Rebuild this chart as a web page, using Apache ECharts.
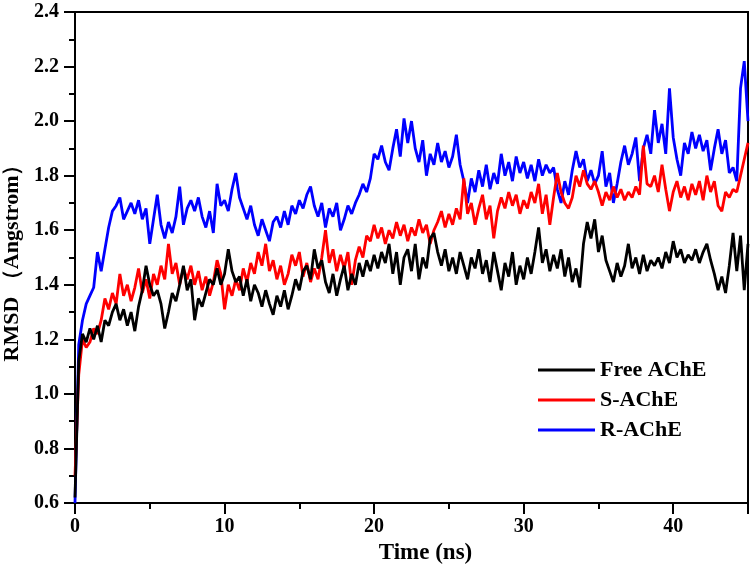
<!DOCTYPE html>
<html>
<head>
<meta charset="utf-8">
<script src="https://cdn.jsdelivr.net/npm/echarts@6/dist/echarts.min.js"></script>
<style>html,body{margin:0;padding:0;background:#fff}#c{width:754px;height:572px}</style>
</head>
<body>
<div id="c"></div>
<script>
// sampling step of the trajectories (ns)
const timeStep = 0.25;
const xTickLabels = ['0', '10', '20', '30', '40'];
const yTickLabels = ['0.6', '0.8', '1.0', '1.2', '1.4', '1.6', '1.8', '2.0', '2.2', '2.4'];
const seriesNames = ['Free AChE', 'S-AChE', 'R-AChE'];

const freeAChE = [
0.62,1.12,1.22,1.19,1.24,1.20,1.25,1.19,1.27,1.25,1.30,1.33,1.27,1.31,1.25,1.30,1.23,1.32,1.38,1.47,
1.40,1.36,1.38,1.33,1.24,1.30,1.37,1.34,1.40,1.47,1.38,1.42,1.27,1.35,1.32,1.37,1.42,1.40,1.46,1.40,
1.44,1.53,1.45,1.41,1.43,1.36,1.42,1.34,1.40,1.37,1.32,1.38,1.33,1.29,1.36,1.32,1.38,1.31,1.36,1.42,
1.38,1.45,1.47,1.42,1.53,1.46,1.49,1.41,1.37,1.44,1.36,1.42,1.47,1.38,1.44,1.40,1.48,1.43,1.49,1.45,
1.51,1.46,1.52,1.48,1.55,1.44,1.52,1.40,1.50,1.53,1.45,1.55,1.42,1.50,1.46,1.57,1.59,1.52,1.47,1.53,
1.45,1.50,1.44,1.52,1.47,1.42,1.50,1.46,1.53,1.44,1.49,1.41,1.52,1.45,1.38,1.48,1.43,1.52,1.40,1.47,
1.42,1.50,1.44,1.52,1.61,1.48,1.53,1.45,1.51,1.46,1.53,1.43,1.50,1.41,1.46,1.39,1.55,1.63,1.57,1.64,
1.52,1.58,1.49,1.45,1.41,1.48,1.43,1.47,1.55,1.46,1.50,1.44,1.51,1.45,1.49,1.47,1.50,1.46,1.52,1.48,
1.56,1.50,1.53,1.48,1.51,1.49,1.53,1.48,1.52,1.55,1.49,1.44,1.38,1.43,1.37,1.47,1.59,1.45,1.58,1.38,
1.55];

const sAChE = [
0.70,1.07,1.20,1.17,1.19,1.24,1.22,1.27,1.35,1.31,1.37,1.33,1.44,1.36,1.40,1.34,1.39,1.46,1.37,1.42,
1.35,1.44,1.40,1.47,1.42,1.55,1.44,1.48,1.40,1.46,1.42,1.47,1.40,1.45,1.38,1.43,1.36,1.41,1.49,1.44,
1.31,1.40,1.36,1.42,1.38,1.46,1.41,1.48,1.44,1.52,1.47,1.55,1.45,1.49,1.42,1.47,1.40,1.44,1.51,1.47,
1.52,1.43,1.48,1.41,1.46,1.42,1.50,1.60,1.48,1.53,1.45,1.51,1.46,1.52,1.40,1.49,1.54,1.50,1.58,1.56,
1.62,1.57,1.61,1.55,1.60,1.57,1.63,1.58,1.62,1.56,1.61,1.58,1.64,1.59,1.62,1.55,1.60,1.63,1.67,1.61,
1.66,1.62,1.68,1.64,1.79,1.66,1.70,1.62,1.68,1.73,1.64,1.69,1.57,1.67,1.72,1.68,1.74,1.69,1.73,1.66,
1.71,1.68,1.74,1.70,1.77,1.66,1.73,1.62,1.72,1.81,1.74,1.70,1.68,1.72,1.80,1.76,1.82,1.77,1.75,1.78,
1.74,1.69,1.74,1.71,1.76,1.72,1.75,1.71,1.74,1.72,1.76,1.73,1.91,1.77,1.76,1.80,1.74,1.84,1.75,1.67,
1.74,1.78,1.72,1.76,1.71,1.77,1.73,1.78,1.71,1.80,1.74,1.78,1.69,1.67,1.74,1.72,1.75,1.74,1.80,1.86,
1.92];

const rAChE = [
0.60,1.18,1.27,1.33,1.36,1.39,1.52,1.45,1.53,1.61,1.67,1.69,1.72,1.64,1.67,1.70,1.66,1.71,1.64,1.68,
1.55,1.64,1.73,1.62,1.57,1.63,1.59,1.65,1.76,1.62,1.68,1.71,1.67,1.72,1.65,1.61,1.67,1.59,1.77,1.69,
1.71,1.67,1.75,1.81,1.72,1.68,1.64,1.69,1.62,1.58,1.64,1.60,1.56,1.63,1.65,1.61,1.67,1.62,1.69,1.66,
1.71,1.68,1.73,1.76,1.69,1.65,1.70,1.61,1.68,1.65,1.70,1.60,1.64,1.69,1.66,1.70,1.73,1.77,1.74,1.79,
1.88,1.86,1.91,1.85,1.82,1.90,1.97,1.87,2.01,1.92,2.00,1.90,1.85,1.93,1.80,1.88,1.84,1.92,1.85,1.89,
1.83,1.87,1.95,1.84,1.78,1.70,1.79,1.74,1.82,1.76,1.84,1.75,1.81,1.77,1.88,1.80,1.85,1.78,1.87,1.81,
1.85,1.79,1.84,1.78,1.86,1.80,1.84,1.81,1.83,1.75,1.70,1.78,1.73,1.82,1.89,1.83,1.86,1.78,1.82,1.77,
1.80,1.89,1.76,1.81,1.70,1.77,1.85,1.91,1.84,1.88,1.94,1.78,1.90,1.95,1.88,2.04,1.92,1.99,1.88,2.12,
1.94,1.86,1.80,1.92,1.88,1.96,1.90,1.95,1.89,1.93,1.82,1.90,1.97,1.88,1.93,1.81,1.83,1.78,2.12,2.22,
2.00];

const seriesValues = [freeAChE, sAChE, rAChE];
const seriesColors = ['#000000', '#ff0000', '#0000ff'];

const FONT = '"Liberation Serif", "Times New Roman", serif';
const chart = echarts.init(document.getElementById('c'), null, {renderer: 'canvas'});

const toPairs = arr => arr.map((v, i) => [i * timeStep, v]);

chart.setOption({
  animation: false,
  backgroundColor: '#ffffff',
  grid: {left: 75, right: 6, top: 12, bottom: 69, containLabel: false, outerBoundsMode: 'none',
    show: true, borderColor: '#000', borderWidth: 2, backgroundColor: 'transparent'},
  legend: {
    orient: 'vertical', left: 533, top: 354, itemWidth: 57, itemHeight: 3, itemGap: 8,
    data: seriesNames.map(n => ({name: n, icon: 'rect'})),
    textStyle: {fontFamily: FONT, fontWeight: 'bold', fontSize: 22, color: '#000'}
  },
  xAxis: [{
    type: 'value', min: 0, max: 45, interval: 5,
    name: 'Time (ns)', nameLocation: 'middle', nameGap: 38,
    nameTextStyle: {fontFamily: FONT, fontWeight: 'bold', fontSize: 23, color: '#000', padding: [0, 0, 0, 28]},
    axisLine: {show: true, onZero: false, lineStyle: {color: '#000', width: 2}},
    axisTick: {show: true, length: 6, lineStyle: {color: '#000', width: 2}},
    axisLabel: {show: true, showMaxLabel: false, margin: 14, fontFamily: FONT, fontWeight: 'bold', fontSize: 20, color: '#000',
      formatter: v => { const s = String(v); return xTickLabels.indexOf(s) >= 0 ? s : ''; }},
    splitLine: {show: false}
  }, {
    type: 'value', min: 0, max: 45, interval: 10, position: 'bottom',
    axisLine: {show: false}, axisLabel: {show: false}, splitLine: {show: false},
    axisTick: {show: true, length: 11, lineStyle: {color: '#000', width: 2}}
  }],
  yAxis: {
    type: 'value', min: 0.6, max: 2.4, interval: 0.2,
    name: 'RMSD （Angstrom）', nameLocation: 'middle', nameRotate: 90, nameGap: 48,
    nameTextStyle: {fontFamily: FONT, fontWeight: 'bold', fontSize: 22, color: '#000'},
    axisLine: {show: true, onZero: false, lineStyle: {color: '#000', width: 2}},
    axisTick: {show: true, length: 11, lineStyle: {color: '#000', width: 2}},
    minorTick: {show: true, splitNumber: 2, length: 6, lineStyle: {color: '#000', width: 2}},
    axisLabel: {margin: 16, fontFamily: FONT, fontWeight: 'bold', fontSize: 20, color: '#000',
      formatter: v => { const s = v.toFixed(1); return yTickLabels.indexOf(s) >= 0 ? s : ''; }},
    splitLine: {show: false}, minorSplitLine: {show: false}
  },
  series: seriesNames.map((name, k) => ({
    name: name, type: 'line', xAxisIndex: 0, showSymbol: false, symbol: 'none',
    data: toPairs(seriesValues[k]),
    lineStyle: {color: seriesColors[k], width: 2.8},
    itemStyle: {color: seriesColors[k]},
    z: 3 + (k === 0 ? 2 : k === 1 ? 1 : 0)
  }))
});
</script>
</body>
</html>
